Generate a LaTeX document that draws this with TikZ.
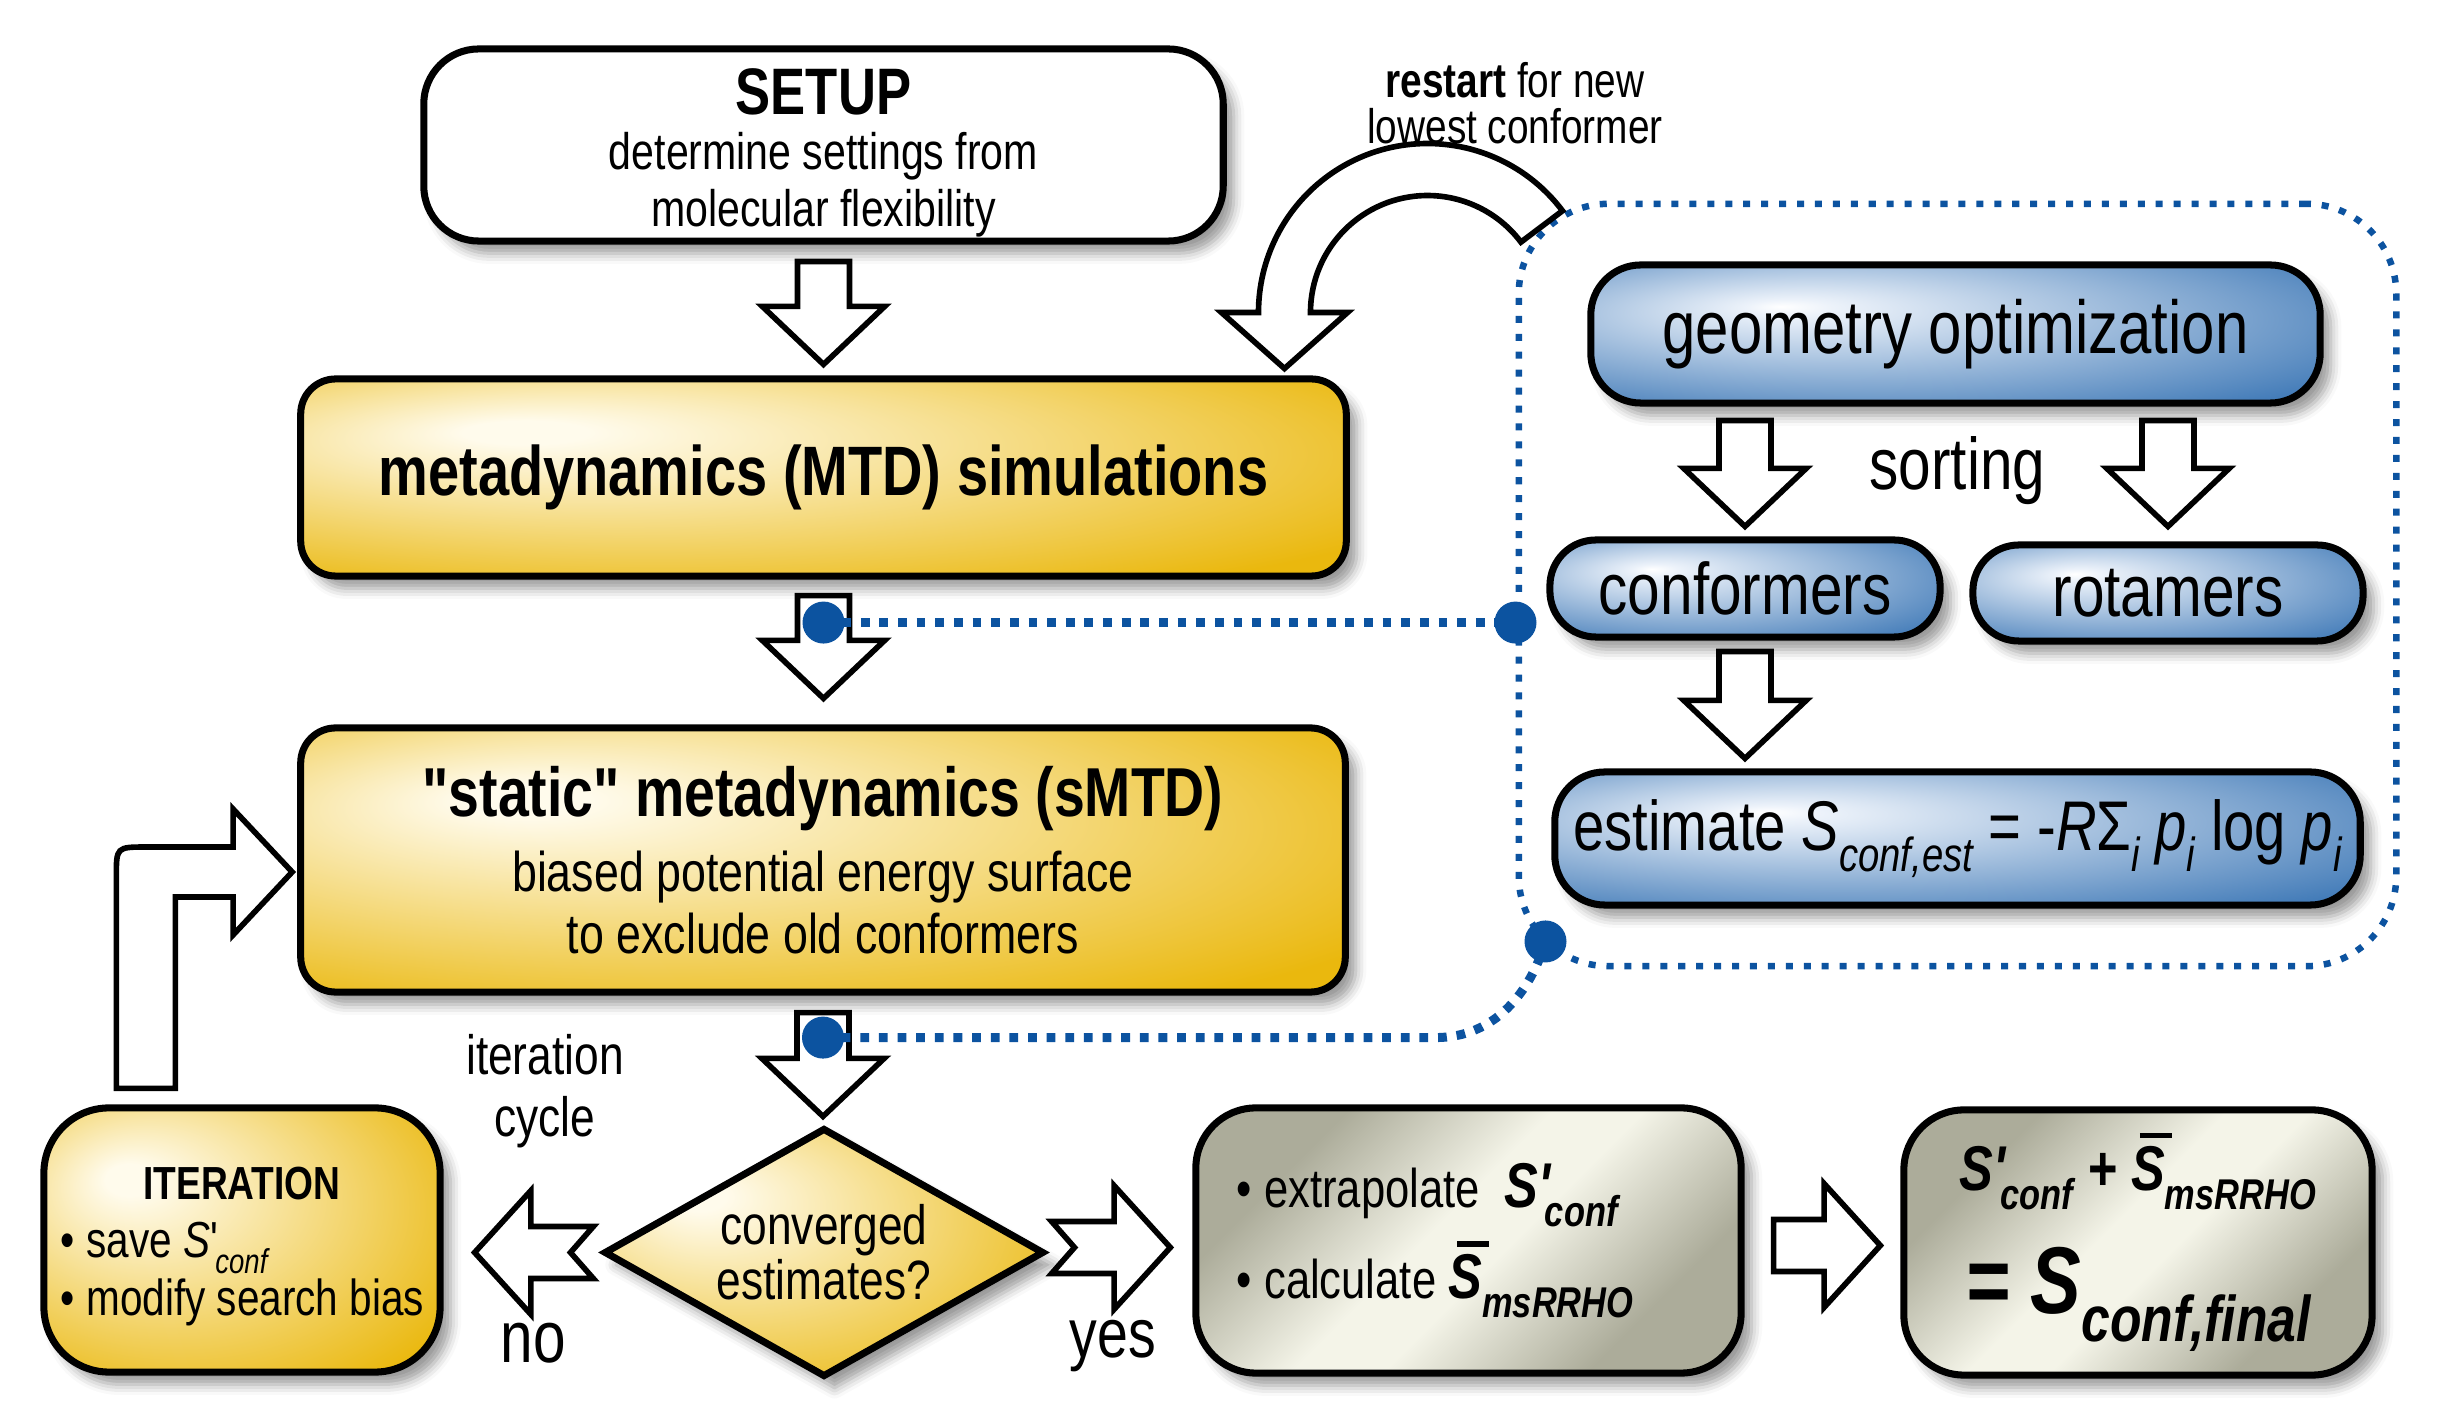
\documentclass[tikz,border=0pt]{standalone}
\usepackage{fontspec}
\setmainfont{Liberation Sans}[FakeStretch=0.8, Ligatures=TeXOff]
\usepackage{graphicx}
\usetikzlibrary{calc,shapes.geometric,shadows.blur}

\definecolor{gold}{RGB}{234,184,14}
\definecolor{goldhi}{RGB}{255,251,236}
\definecolor{bluec}{RGB}{66,123,184}
\definecolor{bluehi}{RGB}{236,242,250}
\definecolor{grayd}{RGB}{172,172,154}
\definecolor{grayl}{RGB}{244,244,232}
\definecolor{dotblue}{RGB}{12,83,160}

\pgfdeclareradialshading{goldsh}{\pgfpoint{-15bp}{12bp}}{color(0bp)=(goldhi); color(3bp)=(goldhi); color(38bp)=(gold); color(60bp)=(gold)}
\pgfdeclareradialshading{bluesh}{\pgfpoint{-12bp}{10bp}}{color(0bp)=(white); color(3bp)=(bluehi); color(38bp)=(bluec); color(60bp)=(bluec)}
\pgfdeclarehorizontalshading{graysh}{100bp}{color(0bp)=(grayd); color(28bp)=(grayd); color(46bp)=(grayl); color(54bp)=(grayl); color(72bp)=(grayd); color(100bp)=(grayd)}

\newcommand{\fsz}[2]{\fontsize{#1}{#2}\selectfont}
\newcommand{\mysub}[1]{\raisebox{-0.3em}{\scalebox{0.68}{#1}}}
\newcommand{\barS}{\rlap{\hspace{0.14em}\raisebox{0.82em}{\rule{0.5em}{0.08em}}}S}
\newcommand{\up}[1]{\rule{0pt}{#1}}

\newcommand{\blockdown}[2]{\draw[blockarrow] let \p1=(#1), \p2=(#2) in
  (\x1-7.4pt,\y1) -- (\x1+7.4pt,\y1) -- (\x1+7.4pt,\y2+16.5pt) -- (\x1+17.4pt,\y2+16.5pt)
  -- (\x1,\y2) -- (\x1-17.4pt,\y2+16.5pt) -- (\x1-7.4pt,\y2+16.5pt) -- cycle;}
\newcommand{\blockright}[3]{\draw[blockarrow] let \p1=(#1), \p2=(#2) in
  (\x1,\y1+7.4pt) -- (\x2-16pt,\y1+7.4pt) -- (\x2-16pt,\y1+17.6pt) -- (\x2,\y1)
  -- (\x2-16pt,\y1-17.6pt) -- (\x2-16pt,\y1-7.4pt) -- (\x1,\y1-7.4pt) -- (\x1+#3,\y1) -- cycle;}
\newcommand{\blockleft}[3]{\draw[blockarrow] let \p1=(#1), \p2=(#2) in
  (\x1,\y1+7.4pt) -- (\x2+16pt,\y1+7.4pt) -- (\x2+16pt,\y1+17.6pt) -- (\x2,\y1)
  -- (\x2+16pt,\y1-17.6pt) -- (\x2+16pt,\y1-7.4pt) -- (\x1,\y1-7.4pt) -- (\x1-#3,\y1) -- cycle;}

\begin{document}
\begin{tikzpicture}[x=0.01cm,y=-0.01cm,
  box/.style={draw, line width=2pt, inner sep=0pt, align=center,
    blur shadow={shadow xshift=3pt, shadow yshift=-3.5pt, shadow opacity=40, shadow blur radius=3pt}},
  goldbox/.style={box, shade, shading=goldsh},
  bluebox/.style={box, shade, shading=bluesh},
  graybox/.style={box, shade, shading=graysh, shading angle=-45},
  plainbox/.style={box, fill=white},
  blockarrow/.style={draw, fill=white, line width=1.6pt, line join=miter},
  conn/.style={draw=dotblue, line width=2.56pt, dash pattern=on 2.5pt off 2.8pt},
  dotdot/.style={fill=dotblue},
  lbl/.style={inner sep=0pt}]
\useasboundingbox (0,0) rectangle (2456,1425);

% dotted region
\node[draw=dotblue, line width=1.85pt, dash pattern=on 2pt off 3.1pt, rounded corners=0.9cm,
  minimum width=8.77cm, minimum height=7.62cm] (region) at (1957.5,585) {};

% restart arrow
\coordinate (rc) at ($(region.north west)+(-88,112)$);
\begin{scope}[shift={(rc)}]
\draw[blockarrow] (-37:169) arc[start angle=-37, end angle=-180, radius=169] -- (-206,0) -- (-143,56)
  -- (-80,0) -- (-117,0) arc[start angle=-180, end angle=-37, radius=117] -- cycle;
\end{scope}
\node[lbl, align=center, font=\fsz{13.8}{13.2}] (restartL) at (1515,103) {\textbf{restart} for new\\lowest conformer};

% boxes
\node[plainbox, minimum width=7.99cm, minimum height=1.92cm, rounded corners=0.55cm,
  font=\fsz{14.6}{16.2}] (setup) at (823.5,145)
  {{\fsz{18.7}{16.2}\bfseries\up{17.6pt}SETUP}\\[-0.4pt]determine settings from\\molecular flexibility};
\node[goldbox, minimum width=10.45cm, minimum height=1.97cm, rounded corners=0.35cm,
  font=\fsz{19.9}{21}\bfseries] (mtd) at (823.5,477.5) {metadynamics (MTD) simulations};
\node[goldbox, minimum width=10.44cm, minimum height=2.64cm, rounded corners=0.35cm,
  font=\fsz{15.9}{17.6}] (smtd) at (823,860)
  {{\fsz{19.7}{17.6}\bfseries\symbol{34}static\symbol{34} metadynamics (sMTD)}\\[3.7pt]biased potential energy surface\\to exclude old conformers};
\node[goldbox, diamond, shape aspect=1.8, minimum width=4.4cm, minimum height=2.49cm,
  font=\fsz{15.75}{12.8}] (dec) at (824,1252.5) {converged\\estimates?};
\node[goldbox, minimum width=3.96cm, minimum height=2.64cm, rounded corners=0.65cm,
  font=\fsz{14.4}{16}] (iter) at (242,1240)
  {{\fsz{13.2}{16}\bfseries\up{13pt}ITERATION}\\[0.5pt]
   \makebox[3.62cm][l]{• save \textit{S}'\kern-0.05em\mysub{\itshape conf}}\\[0.3pt]
   \makebox[3.62cm][l]{• modify search bias}};
\node[graybox, minimum width=5.45cm, minimum height=2.65cm, rounded corners=0.6cm,
  font=\fsz{15.5}{25.9}] (extr) at (1468.5,1240.5)
  {\makebox[4.63cm][l]{• extrapolate\ \ {\fsz{18}{20}\bfseries\itshape S'\kern-0.08em\mysub{conf}}}\\
   \makebox[4.63cm][l]{• calculate {\fsz{18}{20}\bfseries\itshape \barS\mysub{msRRHO}}}};
\node[graybox, minimum width=4.68cm, minimum height=2.65cm, rounded corners=0.6cm,
  font=\fsz{18}{35}\bfseries\itshape] (final) at (2138,1242.5)
  {S'\kern-0.08em\mysub{conf} + \barS\mysub{msRRHO}\\
   {\fsz{27}{35}= S\mysub{conf,final}}};

\node[bluebox, minimum width=7.29cm, minimum height=1.38cm, rounded corners=0.5cm,
  font=\fsz{21.3}{22}] (geo) at (1955.5,334) {geometry optimization};
\node[bluebox, minimum width=3.9cm, minimum height=0.97cm, rounded corners=0.46cm,
  font=\fsz{20.8}{22}] (conf) at (1745,588.5) {conformers};
\node[bluebox, minimum width=3.9cm, minimum height=0.96cm, rounded corners=0.46cm,
  font=\fsz{20.8}{22}] (rot) at (2168,593) {rotamers};
\node[bluebox, minimum width=8.05cm, minimum height=1.33cm, rounded corners=0.5cm,
  font=\fsz{20}{22}] (est) at (1957.5,838.5)
  {estimate \textit{S}\mysub{\itshape conf,est} = -\textit{R}Σ\mysub{\itshape i} \textit{p}\mysub{\itshape i} log \textit{p}\mysub{\itshape i}};

% labels
\node[lbl, anchor=base, font=\fsz{20.8}{22}] (sortL) at (1957.5,490) {sorting};
\node[lbl, align=center, font=\fsz{15.75}{17.6}] (iterL) at (545,1091) {iteration\\cycle};
\node[lbl, anchor=base, font=\fsz{20.8}{22}] (noL) at (533.5,1363) {no};
\node[lbl, anchor=base, font=\fsz{19.7}{22}] (yesL) at (1113,1358) {yes};

% block arrows
\blockdown{$(setup.south)+(0,17)$}{$(mtd.north)+(0,-11)$}
\blockdown{$(mtd.south)+(0,16)$}{$(smtd.north)+(0,-26)$}
\blockdown{$(smtd.south)+(0,17)$}{$(dec.north)+(0,-8)$}
\blockdown{$(conf.north |- geo.south)+(0,14)$}{$(conf.north)+(0,-10)$}
\blockdown{$(rot.north |- geo.south)+(0,14)$}{$(rot.north)+(0,-15)$}
\blockdown{$(conf.south)+(0,11)$}{$(est.north)+(0,-10)$}
\blockright{$(dec.east)+(4,-5)$}{$(dec.east -| extr.west)+(-22,-5)$}{6.5pt}
\blockleft{$(dec.west)+(-7,0)$}{$(dec.west -| iter.east)+(31,0)$}{6.5pt}
\blockright{$(extr.east)+(29,5)$}{$(extr.east -| final.west)+(-20,5)$}{0pt}

% elbow arrow
\coordinate (eb) at ($(iter.north west)+(105.5,-16)$);
\coordinate (et) at ($(smtd.west)+(-5,12)$);
\draw[blockarrow] let \p1=(eb), \p2=(et) in
  (\x1-8.4pt,\y1) -- (\x1-8.4pt,\y2-1.4pt) .. controls (\x1-8.4pt,\y2+7.1pt) .. (\x1+0.1pt,\y2+7.1pt)
  -- (\x2-16.8pt,\y2+7.1pt) -- (\x2-16.8pt,\y2+17.9pt) -- (\x2,\y2) -- (\x2-16.8pt,\y2-17.9pt)
  -- (\x2-16.8pt,\y2-7.1pt) -- (\x1+8.4pt,\y2-7.1pt) -- (\x1+8.4pt,\y1) -- cycle;

% dotted connectors
\coordinate (d1) at ($(mtd.south)+(0,43)$);
\coordinate (d2) at (d1 -| region.west);
\coordinate (d3) at ($(smtd.south)+(0,42)$);
\coordinate (d4) at ($(region.south west)+(30,-28)$);
\draw[conn] (d1) -- (d2);
\draw[conn] (d3) -- ($(d3 -| d4)+(-110,0)$) .. controls ($(d3 -| d4)+(-50,0)$) and ($(d4)+(-15,50)$) .. (d4);
\foreach \d in {d1,d2,d3,d4} \fill[dotdot] (\d) circle[radius=21];
\end{tikzpicture}
\end{document}
